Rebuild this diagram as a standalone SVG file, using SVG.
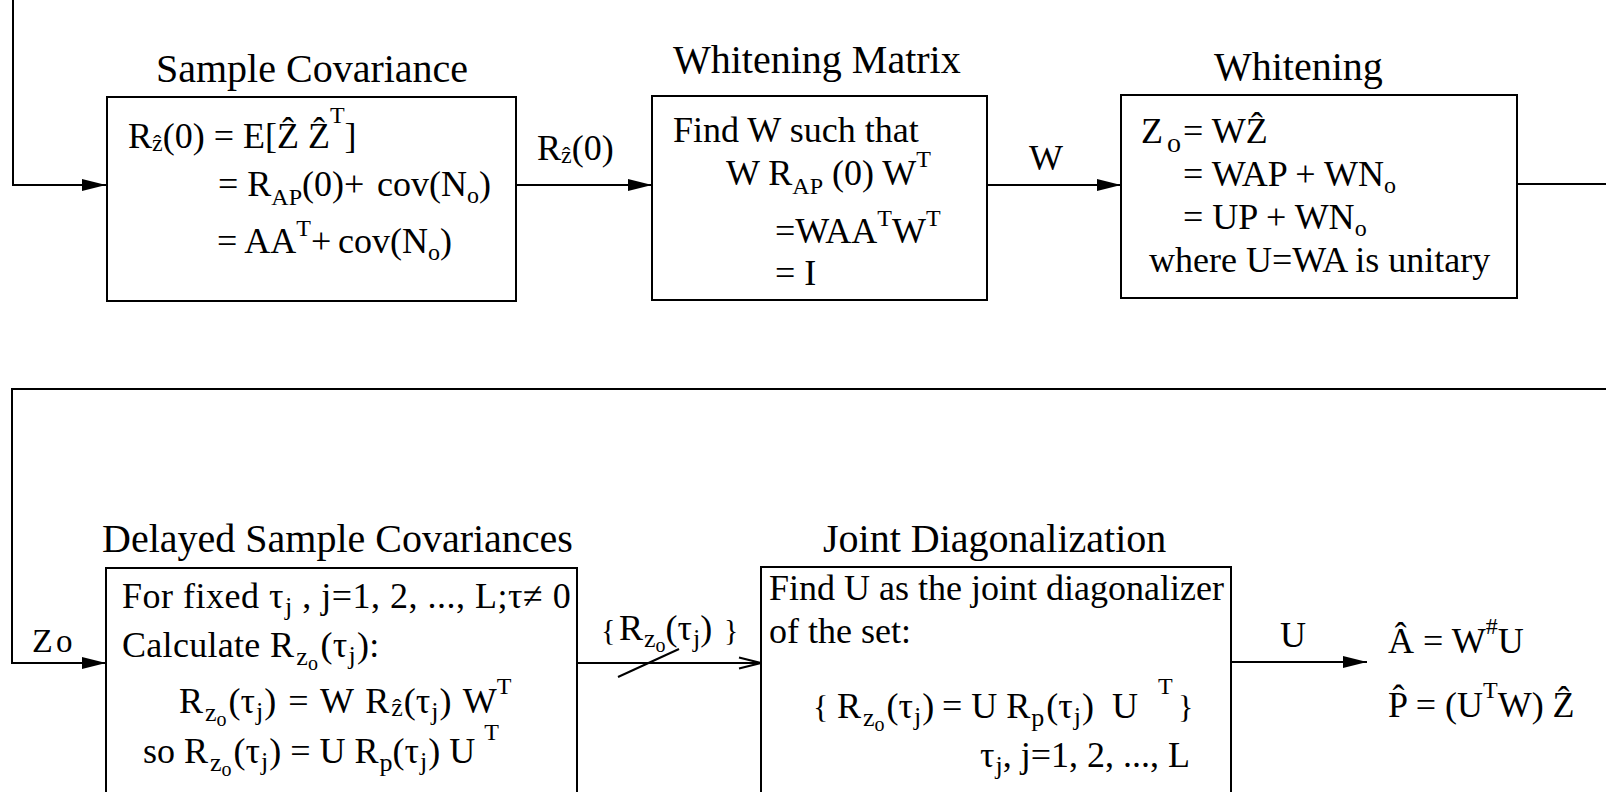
<svg xmlns="http://www.w3.org/2000/svg" width="1606" height="792" viewBox="0 0 1606 792">
<defs>
<style>
text{font-family:"Liberation Serif","Times New Roman",serif;fill:#000;}
.t{font-size:40px;}
.b{font-size:36px;}
.s{font-size:24px;}
.z{font-size:26px;}
.ss{font-size:20px;}
.box{fill:none;stroke:#000;stroke-width:2;}
.ln{fill:none;stroke:#000;stroke-width:2;}
</style>
<marker id="af" markerUnits="userSpaceOnUse" markerWidth="24" markerHeight="12" refX="24" refY="6" orient="auto"><path d="M0,0 L24,6 L0,12 z" fill="#000"/></marker>
<marker id="ao" markerUnits="userSpaceOnUse" markerWidth="24" markerHeight="14" refX="23" refY="7" orient="auto"><path d="M1,1.5 L23,7 L1,12.5" fill="none" stroke="#000" stroke-width="2"/></marker>
</defs>
<rect width="1606" height="792" fill="#fff"/>

<g id="connectors">
<polyline class="ln" points="13,0 13,185 106,185" marker-end="url(#af)"/>
<line class="ln" x1="516" y1="185" x2="652" y2="185" marker-end="url(#af)"/>
<line class="ln" x1="987" y1="185" x2="1121" y2="185" marker-end="url(#af)"/>
<line class="ln" x1="1517" y1="184" x2="1606" y2="184"/>
<polyline class="ln" points="1606,389 12,389 12,663 106,663" marker-end="url(#af)"/>
<line class="ln" x1="577" y1="663" x2="761" y2="663" marker-end="url(#ao)"/>
<line class="ln" x1="618" y1="677" x2="679" y2="649"/>
<line class="ln" x1="1231" y1="662" x2="1367" y2="662" marker-end="url(#af)"/>
<text class="b" y="160"><tspan x="537">R</tspan><tspan class="s" y="163">ẑ</tspan><tspan y="160">(0)</tspan></text>
<text class="b" x="1029" y="170">W</text>
<text y="652"><tspan x="32" font-size="34">Z</tspan><tspan x="56" font-size="33">o</tspan></text>
<text class="b" y="640"><tspan x="601" font-size="30">{</tspan><tspan x="619">R</tspan><tspan class="z" dx="1" y="647">z</tspan><tspan class="ss" y="652">o</tspan><tspan y="640">(τ</tspan><tspan class="z" dx="1" y="647">j</tspan><tspan y="640">)</tspan><tspan x="724" font-size="30">}</tspan></text>
<text class="b" x="1280" y="647">U</text>
</g>

<g id="sample-covariance">
<rect class="box" x="107" y="97" width="409" height="204"/>
<text class="t" x="156" y="82">Sample Covariance</text>
<text class="b" y="148"><tspan x="128">R</tspan><tspan class="s" y="151">ẑ</tspan><tspan y="148">(0) = E[Ẑ Ẑ</tspan><tspan class="s" y="123">T</tspan><tspan y="148">]</tspan></text>
<text class="b" y="196"><tspan x="218">= R</tspan><tspan class="s" y="205">AP</tspan><tspan y="196">(0)+</tspan><tspan x="377">cov(N</tspan><tspan class="s" y="203">o</tspan><tspan y="196">)</tspan></text>
<text class="b" y="253"><tspan x="217">= AA</tspan><tspan class="s" y="236">T</tspan><tspan y="253">+</tspan><tspan x="338">cov(N</tspan><tspan class="s" y="260">o</tspan><tspan y="253">)</tspan></text>
</g>

<g id="whitening-matrix">
<rect class="box" x="652" y="96" width="335" height="204"/>
<text class="t" x="673" y="73">Whitening Matrix</text>
<text class="b" x="673" y="142">Find W such that</text>
<text class="b" y="185"><tspan x="726">W R</tspan><tspan class="s" y="194">AP</tspan><tspan y="185"> (0) W</tspan><tspan class="s" y="167">T</tspan></text>
<text class="b" y="243"><tspan x="775">=WAA</tspan><tspan class="s" y="226">T</tspan><tspan y="243">W</tspan><tspan class="s" y="226">T</tspan></text>
<text class="b" x="775" y="285">= I</text>
</g>

<g id="whitening">
<rect class="box" x="1121" y="95" width="396" height="203"/>
<text class="t" x="1214" y="80">Whitening</text>
<text class="b" y="143"><tspan x="1141">Z</tspan><tspan x="1167" y="152" font-size="28">o</tspan><tspan x="1183" y="143">= WẐ</tspan></text>
<text class="b" y="186"><tspan x="1183">= WAP + WN</tspan><tspan class="s" y="193">o</tspan></text>
<text class="b" y="229"><tspan x="1183">= UP + WN</tspan><tspan class="s" y="236">o</tspan></text>
<text class="b" x="1149" y="272">where U=WA is unitary</text>
</g>

<g id="delayed-sample-covariances">
<rect class="box" x="106" y="568" width="471" height="240"/>
<text class="t" x="102" y="552">Delayed Sample Covariances</text>
<text class="b" y="608" letter-spacing="0.5"><tspan x="122">For fixed τ</tspan><tspan class="z" dx="1" y="615">j</tspan><tspan y="608"> , j=1, 2, ..., L;τ≠ 0</tspan></text>
<text class="b" y="657" letter-spacing="0.3"><tspan x="122">Calculate R</tspan><tspan class="z" dx="2" y="665">z</tspan><tspan class="ss" y="670">o</tspan><tspan dx="2" y="657">(τ</tspan><tspan class="z" dx="1" y="664">j</tspan><tspan dx="1" y="657">):</tspan></text>
<text class="b" y="713" word-spacing="3"><tspan x="179">R</tspan><tspan class="z" dx="2" y="721">z</tspan><tspan class="ss" y="726">o</tspan><tspan dx="2" y="713">(τ</tspan><tspan class="z" dx="1" y="720">j</tspan><tspan dx="1" y="713">) = W R</tspan><tspan class="z" dx="2" y="716">ẑ</tspan><tspan dx="1" y="713">(τ</tspan><tspan class="z" dx="1" y="720">j</tspan><tspan dx="1" y="713">) W</tspan><tspan class="s" y="694">T</tspan></text>
<text class="b" y="763"><tspan x="143">so</tspan><tspan x="184">R</tspan><tspan class="z" dx="2" y="771">z</tspan><tspan class="ss" y="776">o</tspan><tspan dx="2" y="763">(τ</tspan><tspan class="z" dx="1" y="770">j</tspan><tspan dx="1" y="763">) = U R</tspan><tspan class="z" dx="1" y="771">p</tspan><tspan y="763">(τ</tspan><tspan class="z" dx="1" y="770">j</tspan><tspan dx="1" y="763">) U </tspan><tspan class="s" y="740">T</tspan></text>
</g>

<g id="joint-diagonalization">
<rect class="box" x="761" y="567" width="470" height="240"/>
<text class="t" x="823" y="552">Joint Diagonalization</text>
<text class="b" x="769" y="600">Find U as the joint diagonalizer</text>
<text class="b" x="769" y="643">of the set:</text>
<text class="b" y="718"><tspan x="813" font-size="32">{</tspan><tspan x="837">R</tspan><tspan class="z" dx="2" y="726">z</tspan><tspan class="ss" y="731">o</tspan><tspan dx="2" y="718">(τ</tspan><tspan class="z" dx="1" y="725">j</tspan><tspan dx="1" y="718">)</tspan><tspan x="942">= U R</tspan><tspan class="z" dx="1" y="726">p</tspan><tspan dx="2" y="718">(τ</tspan><tspan class="z" dx="1" y="725">j</tspan><tspan dx="1" y="718">)</tspan><tspan x="1112">U</tspan><tspan class="s" x="1158" y="694">T</tspan><tspan x="1178" y="718" font-size="32">}</tspan></text>
<text class="b" y="767"><tspan x="980">τ</tspan><tspan class="z" dx="1" y="774">j</tspan><tspan y="767">, j=1, 2, ..., L</tspan></text>
</g>

<g id="result">
<text class="b" y="653"><tspan x="1388">Â = W</tspan><tspan class="s" y="634">#</tspan><tspan y="653">U</tspan></text>
<text class="b" y="717"><tspan x="1388">P̂ = (U</tspan><tspan class="s" y="698">T</tspan><tspan y="717">W) Ẑ</tspan></text>
</g>
</svg>
